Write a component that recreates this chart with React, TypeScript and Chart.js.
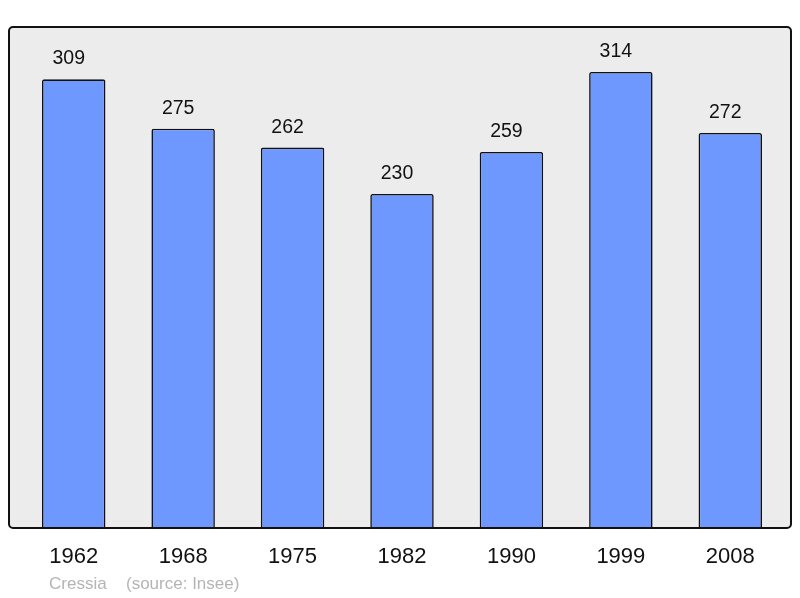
import React, { useEffect, useRef } from "react";
import { Chart, registerables } from "chart.js";

Chart.register(...registerables);

const years = ["1962", "1968", "1975", "1982", "1990", "1999", "2008"];
const population = [309, 275, 262, 230, 259, 314, 272];
const footerName = "Cressia";
const footerSource = "(source: Insee)";

const boxPlugin = {
  id: "boxPlugin",
  beforeDraw(chart: any) {
    const { ctx, chartArea } = chart;
    const x = chartArea.left - 10;
    const y = chartArea.top;
    const w = chartArea.right + 6 - x;
    const h = chartArea.bottom - y;
    ctx.save();
    ctx.beginPath();
    ctx.roundRect(x, y, w, h, 4);
    ctx.fillStyle = "#ececec";
    ctx.fill();
    ctx.restore();
  },
  afterDatasetsDraw(chart: any) {
    const { ctx, chartArea } = chart;
    const x = chartArea.left - 10;
    const y = chartArea.top;
    const w = chartArea.right + 6 - x;
    const h = chartArea.bottom - y;
    ctx.save();
    ctx.beginPath();
    ctx.roundRect(x, y, w, h, 4);
    ctx.lineWidth = 2;
    ctx.strokeStyle = "#111";
    ctx.stroke();
    // value labels
    const meta = chart.getDatasetMeta(0);
    ctx.fillStyle = "#111";
    ctx.font = "19.5px 'Liberation Sans', Arial, sans-serif";
    ctx.textAlign = "center";
    ctx.textBaseline = "alphabetic";
    meta.data.forEach((bar: any, i: number) => {
      ctx.fillText(String(population[i]), bar.x - 5, bar.y - 15);
    });
    // footer
    ctx.fillStyle = "#b4b4b4";
    ctx.font = "17px 'Liberation Sans', Arial, sans-serif";
    ctx.textAlign = "left";
    ctx.fillText(footerName, 49, 589);
    ctx.fillText(footerSource, 126, 589);
    ctx.restore();
  },
};

export default function App() {
  const ref = useRef<HTMLCanvasElement>(null);
  useEffect(() => {
    if (!ref.current) return;
    const chart = new Chart(ref.current, {
      type: "bar",
      data: {
        labels: years,
        datasets: [
          {
            data: population,
            backgroundColor: "#6f98ff",
            borderColor: "#111",
            borderWidth: 1.6,
            borderRadius: 2,
            borderSkipped: "bottom",
            categoryPercentage: 1,
            barPercentage: 0.58,
          },
        ],
      },
      options: {
        animation: false,
        responsive: false,
        maintainAspectRatio: false,
        layout: { padding: { left: 19, right: 15, top: 27, bottom: 0 } },
        plugins: { legend: { display: false }, tooltip: { enabled: false } },
        scales: {
          x: {
            grid: { display: false, drawTicks: false },
            border: { display: false },
            ticks: {
              color: "#111",
              font: { size: 22, family: "'Liberation Sans', Arial, sans-serif" },
              padding: 16,
              maxRotation: 0,
            },
            afterFit: (scale: any) => {
              scale.height = 70;
            },
          },
          y: {
            display: false,
            min: 0,
            max: 345,
          },
        },
      },
      plugins: [boxPlugin],
    });
    return () => chart.destroy();
  }, []);
  return (
    <div style={{ position: "fixed", left: 0, top: 0, width: 800, height: 598, background: "#fff" }}>
      <canvas ref={ref} width={800} height={598} style={{ width: 800, height: 598 }} />
    </div>
  );
}
